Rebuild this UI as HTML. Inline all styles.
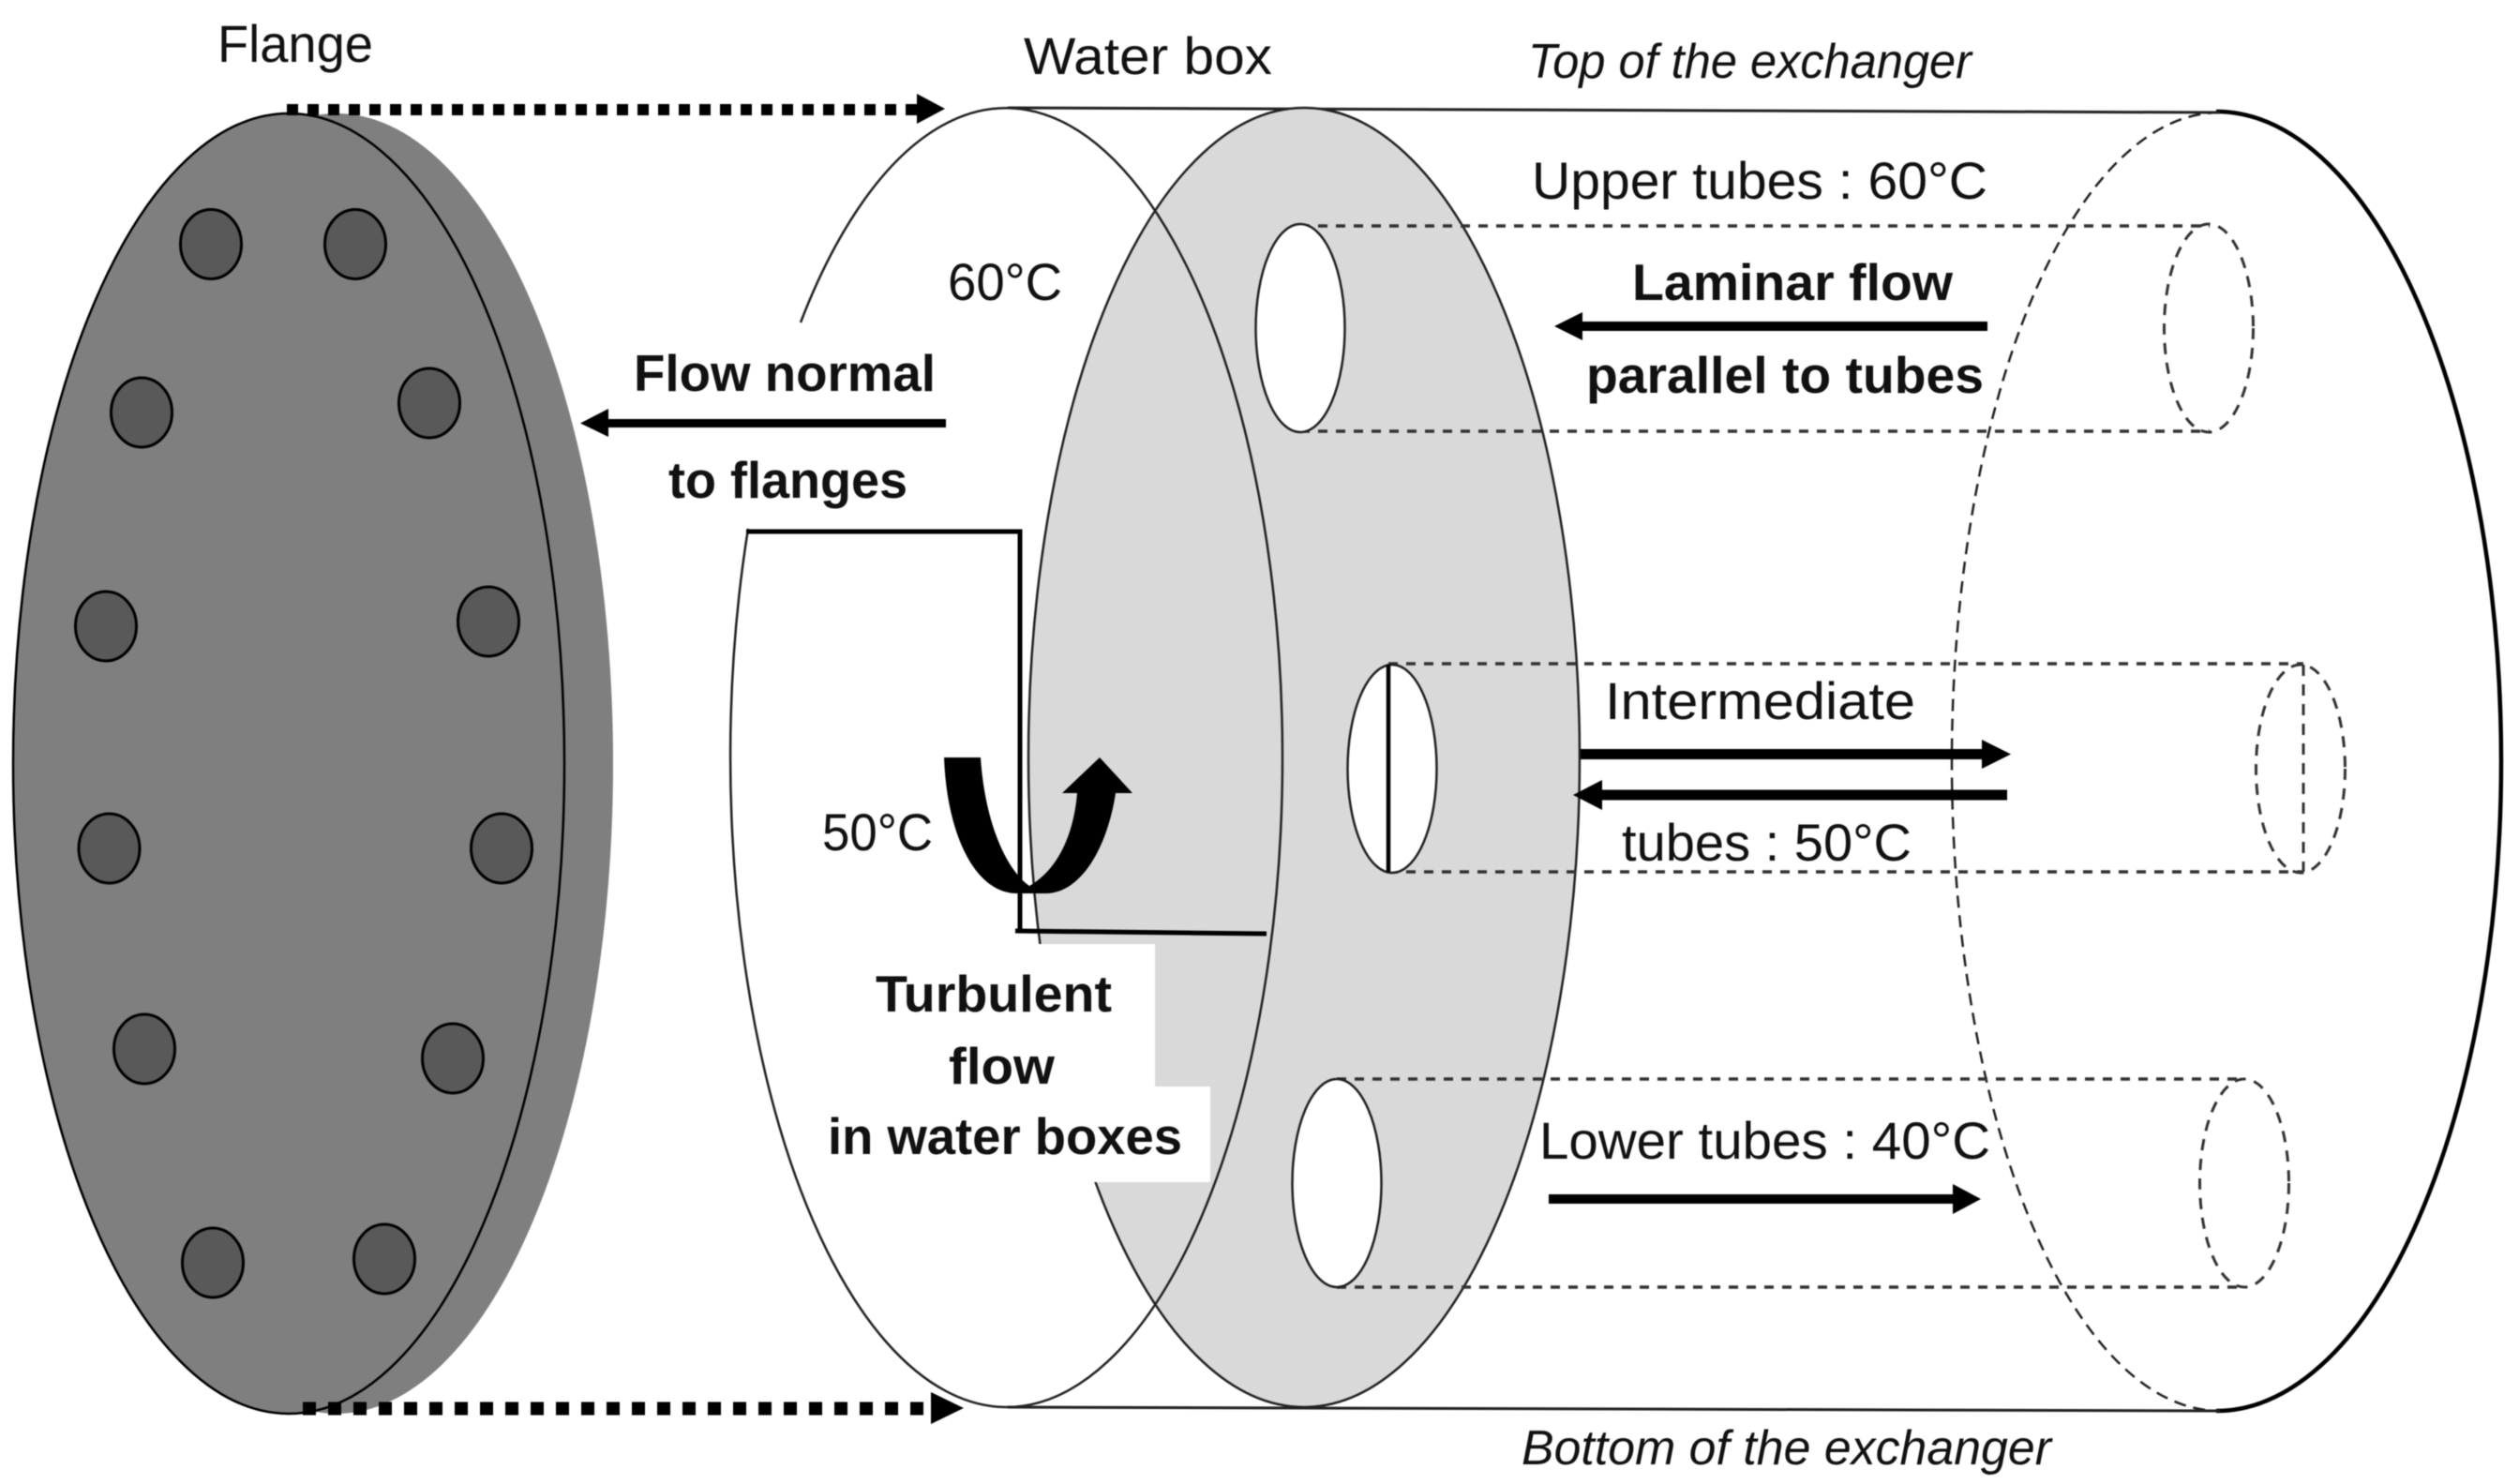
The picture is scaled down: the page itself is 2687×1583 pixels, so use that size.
<!DOCTYPE html>
<html>
<head>
<meta charset="utf-8">
<style>
html,body{margin:0;padding:0;background:#fff}
svg{display:block;filter:blur(0.6px)}
text{font-family:"Liberation Sans",sans-serif;fill:#111}
.n{font-size:56px}
.b{font-size:55px;font-weight:bold}
.i{font-size:52px;font-style:italic}
</style>
</head>
<body>
<svg width="2687" height="1583" viewBox="0 0 2687 1583" xmlns="http://www.w3.org/2000/svg">
<rect width="2687" height="1583" fill="#fff"/>

<!-- Flange -->
<ellipse cx="359" cy="814.500" rx="295" ry="693.500" fill="#7f7f7f"/>
<ellipse cx="308" cy="814.500" rx="294" ry="693.500" fill="#7f7f7f" stroke="#000" stroke-width="2.500"/>
<g fill="#595959" stroke="#000" stroke-width="3">
<ellipse cx="225" cy="260.500" rx="32.500" ry="37"/>
<ellipse cx="379" cy="260.500" rx="32.500" ry="37"/>
<ellipse cx="151" cy="440" rx="32.500" ry="37"/>
<ellipse cx="458" cy="430" rx="32.500" ry="37"/>
<ellipse cx="113" cy="668" rx="32.500" ry="37"/>
<ellipse cx="521" cy="663" rx="32.500" ry="37"/>
<ellipse cx="116.500" cy="905" rx="32.500" ry="37"/>
<ellipse cx="535" cy="905" rx="32.500" ry="37"/>
<ellipse cx="154" cy="1119" rx="32.500" ry="37"/>
<ellipse cx="483" cy="1129" rx="32.500" ry="37"/>
<ellipse cx="227" cy="1347" rx="32.500" ry="37"/>
<ellipse cx="410" cy="1343" rx="32.500" ry="37"/>
</g>

<!-- Dotted arrows -->
<line x1="306" y1="117" x2="980" y2="117" stroke="#000" stroke-width="12" stroke-dasharray="12 10"/>
<polygon points="978,100 1008,116 978,132" fill="#000"/>
<line x1="323" y1="1502.500" x2="995" y2="1502.500" stroke="#000" stroke-width="14" stroke-dasharray="14 13"/>
<polygon points="993,1485 1028,1502 993,1519" fill="#000"/>

<!-- Cylinder -->
<line x1="1075" y1="115" x2="2368" y2="120" stroke="#222" stroke-width="3"/>
<line x1="1075" y1="1501" x2="2368" y2="1505" stroke="#222" stroke-width="3"/>
<path d="M2364,119 A304,693 0 0 1 2364,1505" fill="none" stroke="#000" stroke-width="4.500"/>
<path d="M2368,120 A286,692.500 0 0 0 2368,1505" fill="none" stroke="#222" stroke-width="2.500" stroke-dasharray="13 8"/>

<!-- Grey disc -->
<ellipse cx="1391" cy="808" rx="294" ry="693" fill="#d9d9d9" stroke="#222" stroke-width="2.500"/>

<!-- Tube dashes -->
<g fill="none" stroke="#333" stroke-width="3.500" stroke-dasharray="10 9">
<line x1="1387" y1="241" x2="2357" y2="241"/>
<line x1="1387" y1="460" x2="2357" y2="460"/>
<line x1="1481" y1="708" x2="2457" y2="708"/>
<line x1="1481" y1="930" x2="2457" y2="930"/>
<line x1="1426" y1="1151" x2="2394" y2="1151"/>
<line x1="1426" y1="1373" x2="2394" y2="1373"/>
</g>
<g fill="none" stroke="#333" stroke-width="3" stroke-dasharray="12 9">
<ellipse cx="2356" cy="350" rx="47.500" ry="111"/>
<ellipse cx="2454" cy="820" rx="47.500" ry="111"/>
<line x1="2457" y1="709" x2="2457" y2="930"/>
<ellipse cx="2394" cy="1262" rx="47.500" ry="111"/>
</g>

<!-- Tube holes -->
<g fill="#fff" stroke="#222" stroke-width="2.500">
<ellipse cx="1387" cy="350" rx="47.500" ry="111"/>
<ellipse cx="1485" cy="820" rx="47.500" ry="111"/>
<ellipse cx="1426" cy="1262" rx="47.500" ry="111"/>
</g>
<line x1="1481" y1="709" x2="1481" y2="930" stroke="#000" stroke-width="4.500"/>

<!-- Water box front ellipse -->
<path d="M854,344 A295,693 0 0 1 1368,808 A295,693 0 0 1 1073,1501 A295,693 0 0 1 798,564" fill="none" stroke="#222" stroke-width="2.500"/>

<!-- White label patch -->
<rect x="880" y="1007" width="352" height="152" fill="#fff"/>
<rect x="880" y="1159" width="411" height="102" fill="#fff"/>

<!-- Square lines -->
<path d="M796,567 H1088 V994" fill="none" stroke="#000" stroke-width="5"/>
<line x1="1083" y1="993" x2="1351" y2="996" stroke="#000" stroke-width="5"/>

<!-- Straight arrows -->
<g fill="#000">
<rect x="645" y="447" width="364" height="9"/><polygon points="619,451.500 649,436 649,466"/>
<rect x="1682" y="343" width="438" height="10"/><polygon points="1658,348 1688,333 1688,363"/>
<rect x="1686" y="799" width="430" height="11"/><polygon points="2145,804.500 2114,789 2114,820"/>
<rect x="1704" y="842.500" width="437" height="11"/><polygon points="1678,848 1709,832 1709,864"/>
<rect x="1652" y="1274" width="434" height="10"/><polygon points="2113,1279 2083,1263 2083,1295"/>
</g>

<!-- U arrow -->
<path d="M1007,808 L1046,808 C1050,870 1070,925 1098,945 C1125,930 1145,895 1149,846 L1133,846 L1173,808 L1208,846 L1190,846 C1182,900 1155,953 1115,953 L1085,953 C1040,953 1010,890 1007,808 Z" fill="#000"/>

<!-- Labels -->
<text class="n" x="232" y="66" textLength="166" lengthAdjust="spacingAndGlyphs">Flange</text>
<text class="n" x="1092" y="79" textLength="265" lengthAdjust="spacingAndGlyphs">Water box</text>
<text class="i" x="1630" y="83" textLength="473" lengthAdjust="spacingAndGlyphs">Top of the exchanger</text>
<text class="n" x="1634" y="212" textLength="486" lengthAdjust="spacingAndGlyphs">Upper tubes : 60°C</text>
<text class="b" x="1741" y="320" textLength="342" lengthAdjust="spacingAndGlyphs">Laminar flow</text>
<text class="b" x="1692" y="419" textLength="424" lengthAdjust="spacingAndGlyphs">parallel to tubes</text>
<text class="n" x="1011" y="320" textLength="122" lengthAdjust="spacingAndGlyphs">60°C</text>
<text class="b" x="676" y="417" textLength="322" lengthAdjust="spacingAndGlyphs">Flow normal</text>
<text class="b" x="713" y="531" textLength="255" lengthAdjust="spacingAndGlyphs">to flanges</text>
<text class="n" x="877" y="907" textLength="118" lengthAdjust="spacingAndGlyphs">50°C</text>
<text class="b" x="934" y="1079" textLength="252" lengthAdjust="spacingAndGlyphs">Turbulent</text>
<text class="b" x="1012" y="1156" textLength="113" lengthAdjust="spacingAndGlyphs">flow</text>
<text class="b" x="883" y="1231" textLength="378" lengthAdjust="spacingAndGlyphs">in water boxes</text>
<text class="n" x="1712" y="767" textLength="331" lengthAdjust="spacingAndGlyphs">Intermediate</text>
<text class="n" x="1730" y="918" textLength="309" lengthAdjust="spacingAndGlyphs">tubes : 50°C</text>
<text class="n" x="1642" y="1236" textLength="481" lengthAdjust="spacingAndGlyphs">Lower tubes : 40°C</text>
<text class="i" x="1623" y="1562" textLength="565" lengthAdjust="spacingAndGlyphs">Bottom of the exchanger</text>
</svg>
</body>
</html>
